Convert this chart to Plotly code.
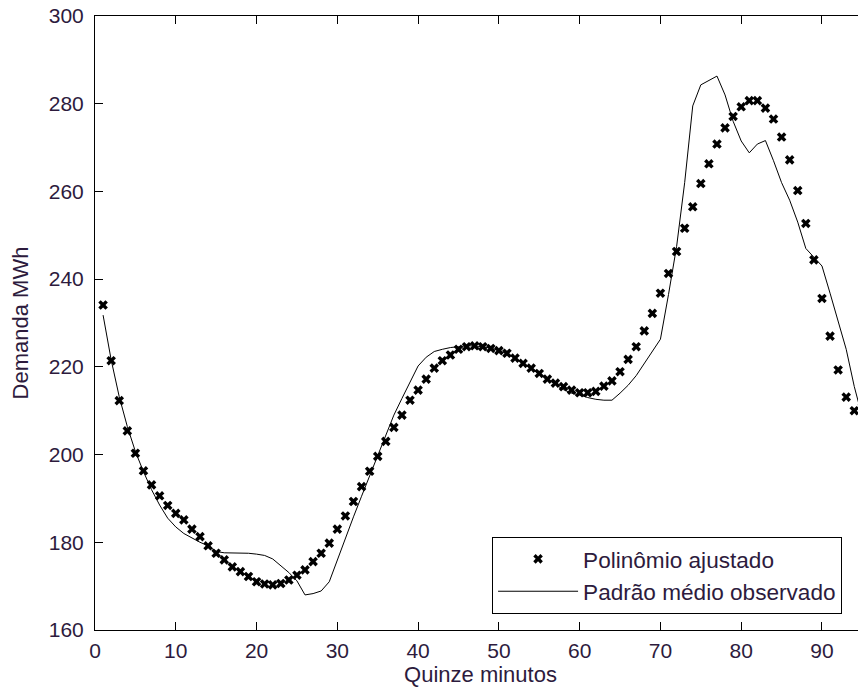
import plotly.graph_objects as go

quarter = list(range(1, 97))

polinomio = [
    234.1, 221.4, 212.3, 205.4, 200.3, 196.3, 193.1, 190.6, 188.4, 186.6,
    185.1, 183.0, 181.3, 179.2, 177.5, 176.0, 174.4, 173.3, 172.2, 171.0,
    170.5, 170.3, 170.6, 171.4, 172.5, 173.7, 175.6, 177.5, 179.8, 183.0,
    186.0, 189.3, 192.7, 196.2, 199.6, 203.0, 206.2, 209.0, 212.4, 214.7,
    217.2, 219.7, 221.4, 222.7, 224.0, 224.6, 224.8, 224.6, 224.2, 223.7,
    223.1, 222.0, 220.8, 219.7, 218.5, 217.2, 216.3, 215.5, 214.7, 214.1,
    214.1, 214.4, 215.6, 216.8, 218.9, 221.7, 224.6, 228.2, 232.2, 236.8,
    241.3, 246.3, 251.6, 256.5, 261.8, 266.3, 270.8, 274.5, 277.1, 279.3,
    280.7, 280.7, 279.0, 276.5, 272.4, 267.2, 260.2, 252.7, 244.4, 235.6,
    227.0, 219.3, 213.1, 210.0, 210.8, 213.5,
]

observado = [
    231.8, 221.6, 213.2, 206.4, 200.7, 196.1, 192.0, 188.5, 185.5, 183.5,
    182.0, 181.0, 180.0, 179.2, 177.9, 177.6, 177.6, 177.5, 177.5, 177.3,
    177.0, 176.2, 174.7, 173.1, 171.2, 168.0, 168.3, 168.9, 171.0, 176.0,
    181.2, 185.8, 190.5, 195.1, 199.8, 204.5, 209.0, 212.8, 216.5, 220.2,
    222.2, 223.5, 224.0, 224.4, 224.6, 224.8, 224.8, 224.6, 224.3, 223.7,
    223.0, 222.0, 220.8, 219.6, 218.3, 217.0, 216.0, 214.8, 214.0, 213.6,
    213.0, 212.6, 212.4, 212.4, 214.0, 215.8, 218.0, 220.8, 223.5, 226.3,
    236.5, 247.4, 262.0, 279.5, 284.3, 285.3, 286.3, 282.0, 276.0, 271.5,
    268.8, 270.8, 271.6, 267.0, 262.0, 258.0, 253.0, 247.0, 245.0, 243.0,
    236.8, 230.5, 224.0, 215.5, 208.5, 203.0,
]

x_ticks = [0, 10, 20, 30, 40, 50, 60, 70, 80, 90]
y_ticks = [160, 180, 200, 220, 240, 260, 280, 300]

TXT = "#2d1b3d"
FONT = "Arial, Liberation Sans, sans-serif"

fig = go.Figure()
fig.add_trace(go.Scatter(
    x=quarter, y=polinomio, mode="markers", name="Polinômio ajustado",
    marker=dict(symbol="x", size=8.5, color="black", line=dict(width=0)),
))
fig.add_trace(go.Scatter(
    x=quarter, y=observado, mode="lines", name="Padrão médio observado",
    line=dict(color="black", width=1),
))
# right-side tick marks (axis box edge)
fig.add_trace(go.Scatter(x=[None], y=[None], yaxis="y2", showlegend=False,
                         hoverinfo="skip"))

fig.update_layout(
    width=858, height=687,
    margin=dict(l=87, r=0, t=8, b=65, pad=0, autoexpand=False),
    paper_bgcolor="white", plot_bgcolor="white",
    font=dict(family=FONT, size=21, color=TXT),
    showlegend=True,
    legend=dict(
        x=0.515, y=0.152, xanchor="left", yanchor="top",
        bgcolor="white", bordercolor="black", borderwidth=1,
        font=dict(family=FONT, size=22.6, color=TXT),
        itemwidth=80, tracegroupgap=0,
    ),
    xaxis=dict(
        range=[0, 95.45], tickvals=x_ticks, ticks="inside", ticklen=8,
        tickcolor="black", showline=True, linecolor="black", linewidth=1,
        mirror="ticks", showgrid=False, zeroline=False, automargin=False,
        tickfont=dict(size=21, color=TXT), ticklabelstandoff=2,
        ticklabeloverflow="allow",
        title=dict(text="Quinze minutos", font=dict(size=22, color=TXT),
                   standoff=2),
    ),
    yaxis=dict(
        range=[160, 300], tickvals=y_ticks, ticks="inside", ticklen=8,
        tickcolor="black", showline=True, linecolor="black", linewidth=1,
        mirror=False, showgrid=False, zeroline=False, automargin=False,
        tickfont=dict(size=21, color=TXT), ticklabelstandoff=6,
        ticklabeloverflow="allow",
        title=dict(text="Demanda MWh", font=dict(size=22, color=TXT),
                   standoff=14),
    ),
    yaxis2=dict(
        overlaying="y", side="right", range=[160, 300], tickvals=y_ticks,
        ticks="inside", ticklen=4, tickcolor="black", showticklabels=False,
        showline=False, showgrid=False, zeroline=False, automargin=False,
    ),
)

fig.write_html("out.html")
